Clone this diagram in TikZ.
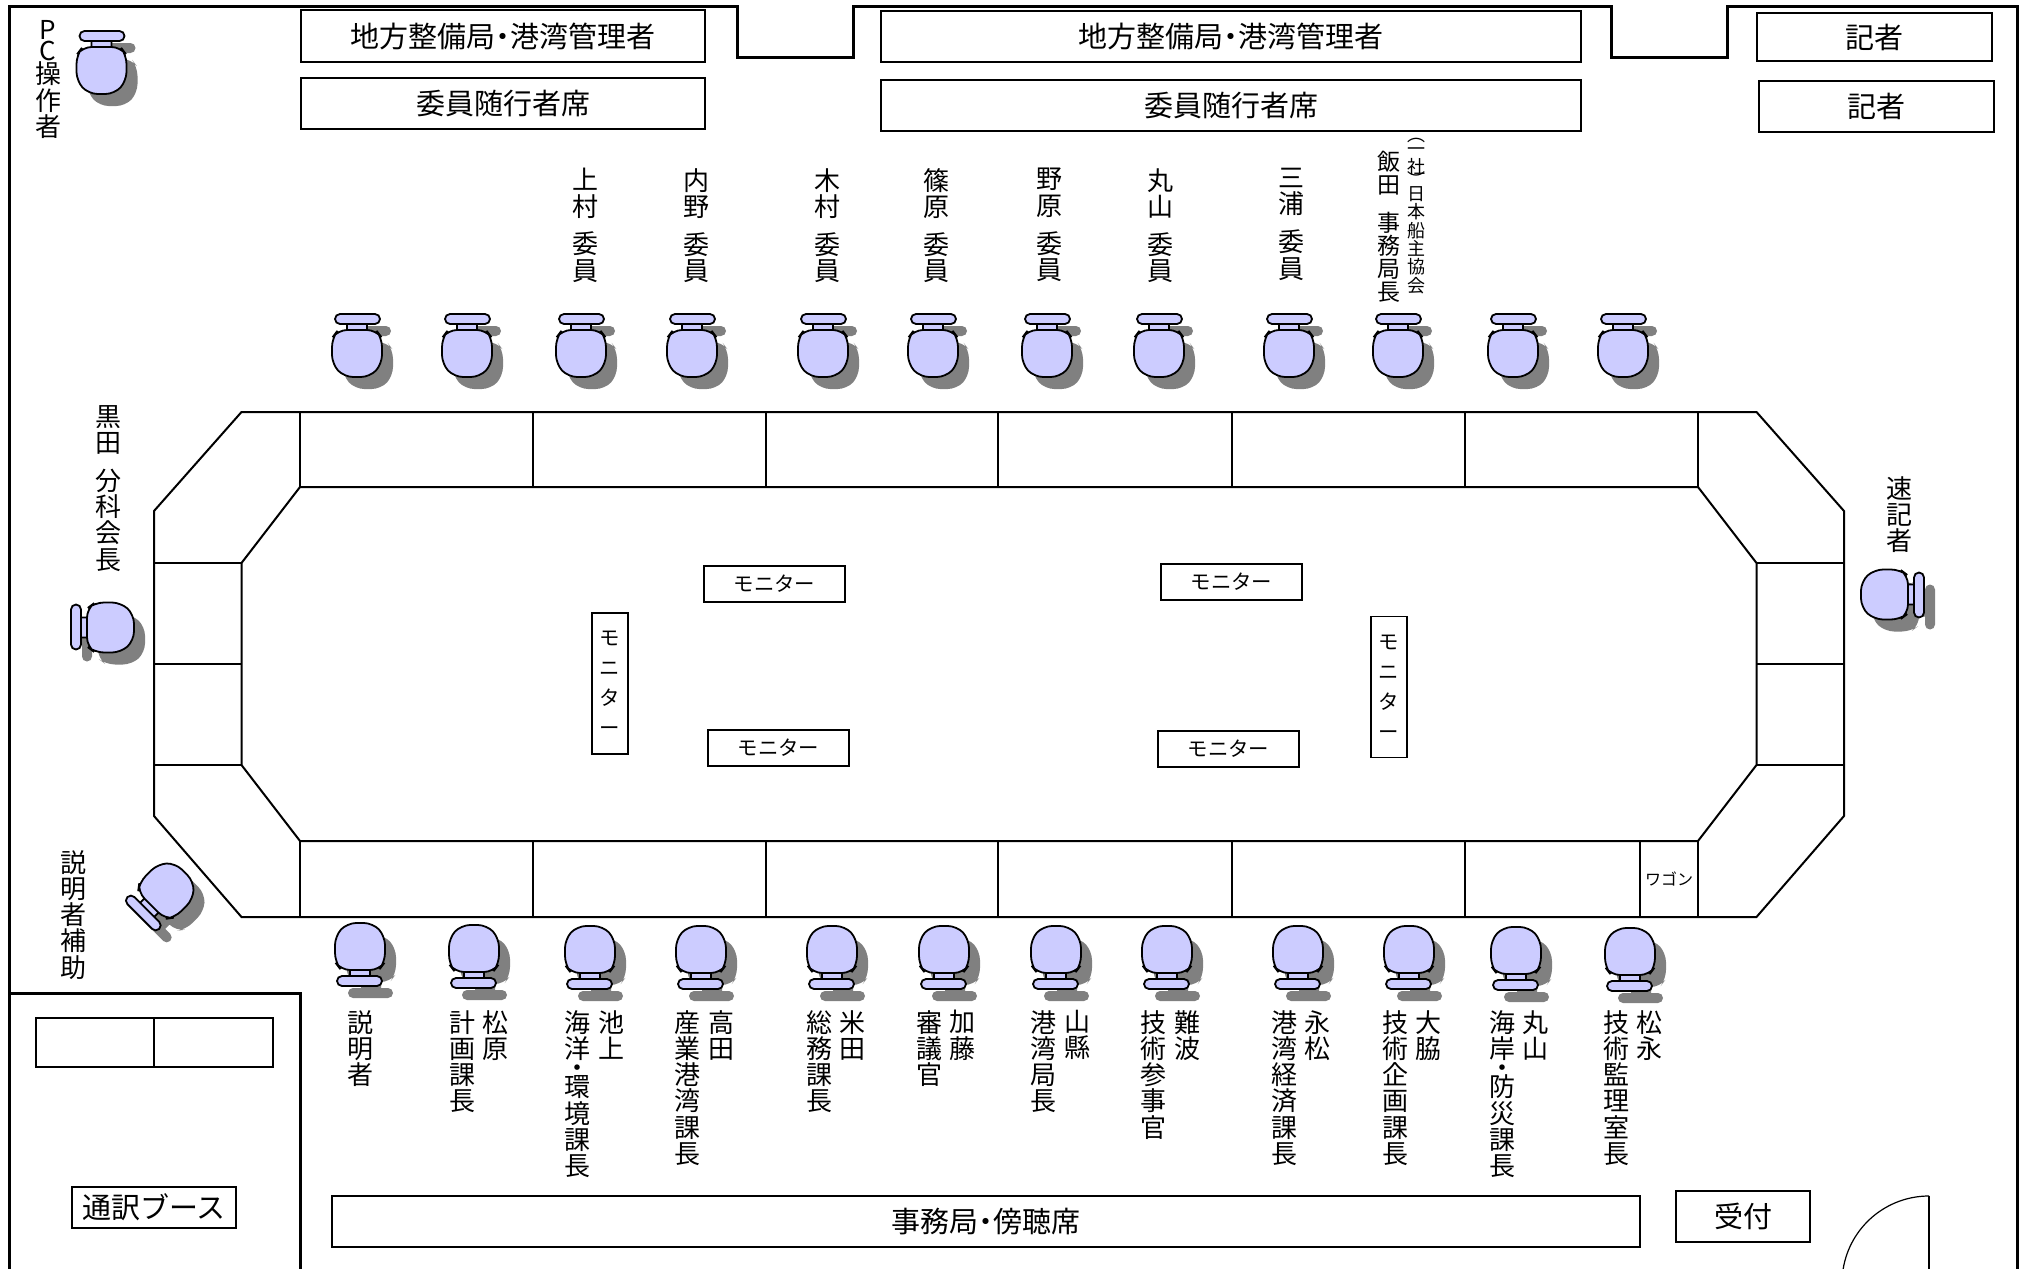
\documentclass[tikz,border=0pt]{standalone}
\usepackage{fontspec}
\setmainfont{Noto Sans CJK JP}
\setlength{\lineskiplimit}{-100pt}
\definecolor{seatblue}{RGB}{204,204,255}
\definecolor{seatshadow}{RGB}{128,128,128}
\newcommand{\gp}{\\[.45em]}
\newcommand{\dt}{\kern-.25em・\kern-.25em}
\newcommand{\vdt}{\\[-3.5pt]・\\[-3.5pt]}
\newcommand{\seatpath}{[rounded corners=2.5pt] (-22,-38) rectangle (23,-28) [sharp corners] (-10,-28) rectangle (10,-22)
  [rounded corners=4.5pt] (-19,-22) -- (19,-22) -- (25,-14) -- (25,12) -- (13,25) -- (-13,25) -- (-25,12) -- (-25,-14) -- cycle}
\newcommand{\chair}[3]{
  \begin{scope}[shift={(#1+11,#2+12)},rotate=#3] \fill[seatshadow] \seatpath; \end{scope}
  \begin{scope}[shift={(#1,#2)},rotate=#3] \filldraw[fill=seatblue,draw=black,line width=.9pt] \seatpath; \end{scope}
}
\tikzset{
  wall/.style={line width=1.5pt},
  tableline/.style={line width=1pt},
  boxlabel/.style={draw,line width=.6pt,inner sep=0pt,font=\fontsize{14.5}{15}\selectfont},
  monitor/.style={draw,line width=.6pt,inner sep=0pt,align=center,font=\fontsize{10.2}{15}\selectfont},
  vlabel/.style={anchor=north,inner sep=0pt,align=center,font=\fontsize{13}{13.1}\selectfont},
  vmid/.style={anchor=north,inner sep=0pt,align=center,font=\fontsize{11.5}{11.5}\selectfont},
  vsmall/.style={anchor=north,inner sep=0pt,align=center,font=\fontsize{9}{9.2}\selectfont}
}
\begin{document}
\begin{tikzpicture}[x=.5pt,y=-.5pt]
  \useasboundingbox (0,0) rectangle (2025,1269);
  % room walls
  \draw[wall] (9,1269)--(9,6)--(737,6)--(737,57)--(853,57)--(853,6)--(1611,6)--(1611,57)--(1727,57)--(1727,6)--(2017,6)--(2017,1269);
  \draw[wall] (9,993)--(300,993)--(300,1269);
  % table
  \draw[tableline] (241.5,412)--(1756.5,412)--(1844,511)--(1844,816)--(1756.5,917)--(241.5,917)--(154,816)--(154,511)--cycle;
  \draw[tableline] (300,487)--(1698,487)--(1756.5,563)--(1756.5,765)--(1698,841)--(300,841)--(241.5,765)--(241.5,563)--cycle;
  \foreach \x in {300,533,766,998,1232,1465,1698} {
    \draw[tableline] (\x,412)--(\x,487);
    \draw[tableline] (\x,841)--(\x,917);
  }
  \draw[tableline] (1640,841)--(1640,917);
  \foreach \y in {563,664,765} {
    \draw[tableline] (154,\y)--(241.5,\y);
    \draw[tableline] (1756.5,\y)--(1844,\y);
  }
  \node[font=\fontsize{8}{8}\selectfont,inner sep=0pt] (wagon) at (1669,879) {ワゴン};
  % seats
  \foreach \x in {357,467,581,692,823,933,1047,1159,1289,1398,1513,1623} \chair{\x}{352}{0};
  \foreach \x/\y in {360/948,474/950,590/951,701/951,832/951,944/951,1056/951,1167/951,1298/951,1409/951,1516/952,1630/953} \chair{\x}{\y}{180};
  \chair{101.5}{69}{0}
  \chair{109}{627.5}{90}
  \chair{1886}{594.5}{-90}
  \chair{167}{890}{135}
  % labelled boxes
  \foreach \n/\x/\y/\w/\h/\t in {
    bureauL/503/36/202/26/地方整備局\dt 港湾管理者,
    escortL/503/103.5/202/25.5/委員随行者席,
    bureauM/1231/36.5/350/25.5/地方整備局\dt 港湾管理者,
    escortM/1231/105.5/350/25.5/委員随行者席,
    pressA/1874.5/37/117.5/24/記者,
    pressB/1876.5/106.5/117.5/25.5/記者,
    gallery/986/1221.5/654/25.5/事務局\dt 傍聴席,
    desk/1743/1216.5/67/25.5/受付,
    booth/154/1207.5/82/20.5/通訳ブース}
    \node[boxlabel,minimum width=\w pt,minimum height=\h pt] (\n) at (\x,\y) {\t};
  \draw[line width=.6pt] (36,1018) rectangle (273,1067) (154,1018)--(154,1067);
  % monitors
  \foreach \n/\x/\y in {monA/774.5/584,monB/1231.5/582,monC/778.5/748,monD/1228.5/749}
    \node[monitor,minimum width=70.5pt,minimum height=18pt] (\n) at (\x,\y) {モニター};
  \foreach \n/\x/\y in {monE/610/683.5,monF/1389/687}
    \node[monitor,minimum width=18pt,minimum height=70.5pt] (\n) at (\x,\y) {モ\\ニ\\タ\\ー};
  % members
  \foreach \x/\t [count=\i] in {
    585/上\\村\gp 委\\員,696/内\\野\gp 委\\員,827/木\\村\gp 委\\員,
    936/篠\\原\gp 委\\員,1049/野\\原\gp 委\\員,1160/丸\\山\gp 委\\員,
    1291/三\\浦\gp 委\\員}
    \node[vlabel] (member\i) at (\x,168) {\t};
  \node[vmid] (iida) at (1389,151) {飯\\田\\[7.5pt]事\\務\\局\\長};
  \node[vsmall] (assoc) at (1416,138) {︵\\[-2.5pt]一\\社\\[-2.5pt]︶\\[-2.5pt]日\\本\\船\\主\\協\\会};
  \node[vlabel] (pc) at (48,20) {P\\[-2.5pt]C\\[-1.5pt]操\\作\\者};
  \node[vlabel] (chairman) at (108,405) {黒\\田\gp 分\\科\\会\\長};
  \node[vlabel] (stenog) at (1899,476) {速\\記\\者};
  \node[vlabel] (assist) at (73,850) {説\\明\\者\\補\\助};
  \node[vlabel] (speaker) at (360,1010) {説\\明\\者};
  % secretariat, name and title
  \foreach \x/\t/\xx/\tt [count=\i] in {
    495/松\\原/462/計\\画\\課\\長,
    611/池\\上/577/海\\洋\vdt 環\\境\\課\\長,
    721/高\\田/687/産\\業\\港\\湾\\課\\長,
    852/米\\田/819/総\\務\\課\\長,
    962/加\\藤/929/審\\議\\官,
    1077/山\\縣/1043/港\\湾\\局\\長,
    1187/難\\波/1153/技\\術\\参\\事\\官,
    1317/永\\松/1284/港\\湾\\経\\済\\課\\長,
    1428/大\\脇/1395/技\\術\\企\\画\\課\\長,
    1535/丸\\山/1502/海\\岸\vdt 防\\災\\課\\長,
    1649/松\\永/1616/技\\術\\監\\理\\室\\長} {
    \node[vlabel] (name\i) at (\x,1010) {\t};
    \node[vlabel] (title\i) at (\xx,1010) {\tt};
  }
  % door
  \draw[line width=1pt] (1929,1269)--(1929,1196);
  \draw[line width=.6pt] (1929,1196) arc[start angle=270,end angle=189.3,radius=87];
\end{tikzpicture}
\end{document}
